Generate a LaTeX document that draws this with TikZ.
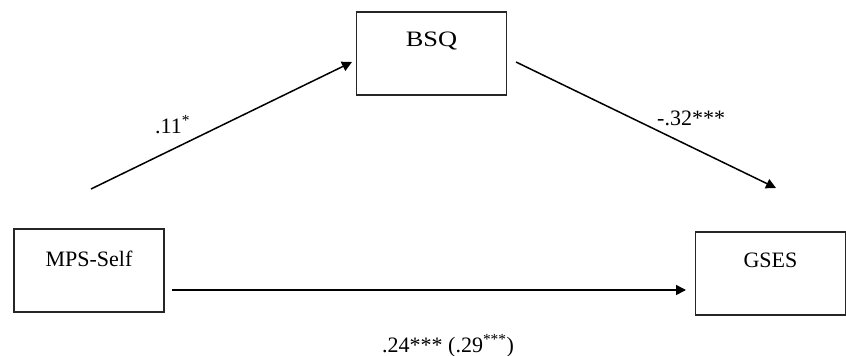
\documentclass[tikz,border=0pt]{standalone}
\usepackage{fontspec}
\setmainfont{Liberation Serif}
\usetikzlibrary{arrows.meta}
\begin{document}
\begin{tikzpicture}[x=1pt,y=-1pt,
  font=\fontsize{22}{26}\selectfont,
  varbox/.style={draw=black!85, line width=1.2pt, inner sep=0pt,
    minimum width=150pt, align=center},
  path/.style={draw, line width=1.5pt, -{Triangle[length=10pt,width=10pt]}},
  coef/.style={inner sep=0pt}]
\useasboundingbox (0,0) rectangle (846,356);

% variables: text sits in the upper part of each box
\node[varbox, text height=37pt, text depth=46pt] (mps) at (89,270.5) {MPS-Self};
\node[varbox, text height=34.5pt, text depth=48.5pt] (bsq) at (431.5,53.5) {\scalebox{1.2}[1]{BSQ}};
\node[varbox, text height=35.5pt, text depth=47.5pt] (gses) at (770.5,273.5) {GSES};

% free ends of the paths
\coordinate (aStart) at (91,189);
\coordinate (aEnd) at (352,62);
\coordinate (bStart) at (516,62);
\coordinate (bEnd) at (776,188);
\coordinate (cStart) at (172,290);
\coordinate (cEnd) at (686,290);

\draw[path] (aStart) -- (aEnd);
\draw[path] (bStart) -- (bEnd);
\draw[path] (cStart) -- (cEnd);

% path coefficients
\node[coef, anchor=base west] (ca) at (155,133) {.11\textsuperscript{*}};
\node[coef, anchor=base west] (cb) at (657,125) {-.32***};
\node[coef, anchor=base west] (cc) at (382,352) {.24*** (.29\textsuperscript{***})};
\end{tikzpicture}
\end{document}
